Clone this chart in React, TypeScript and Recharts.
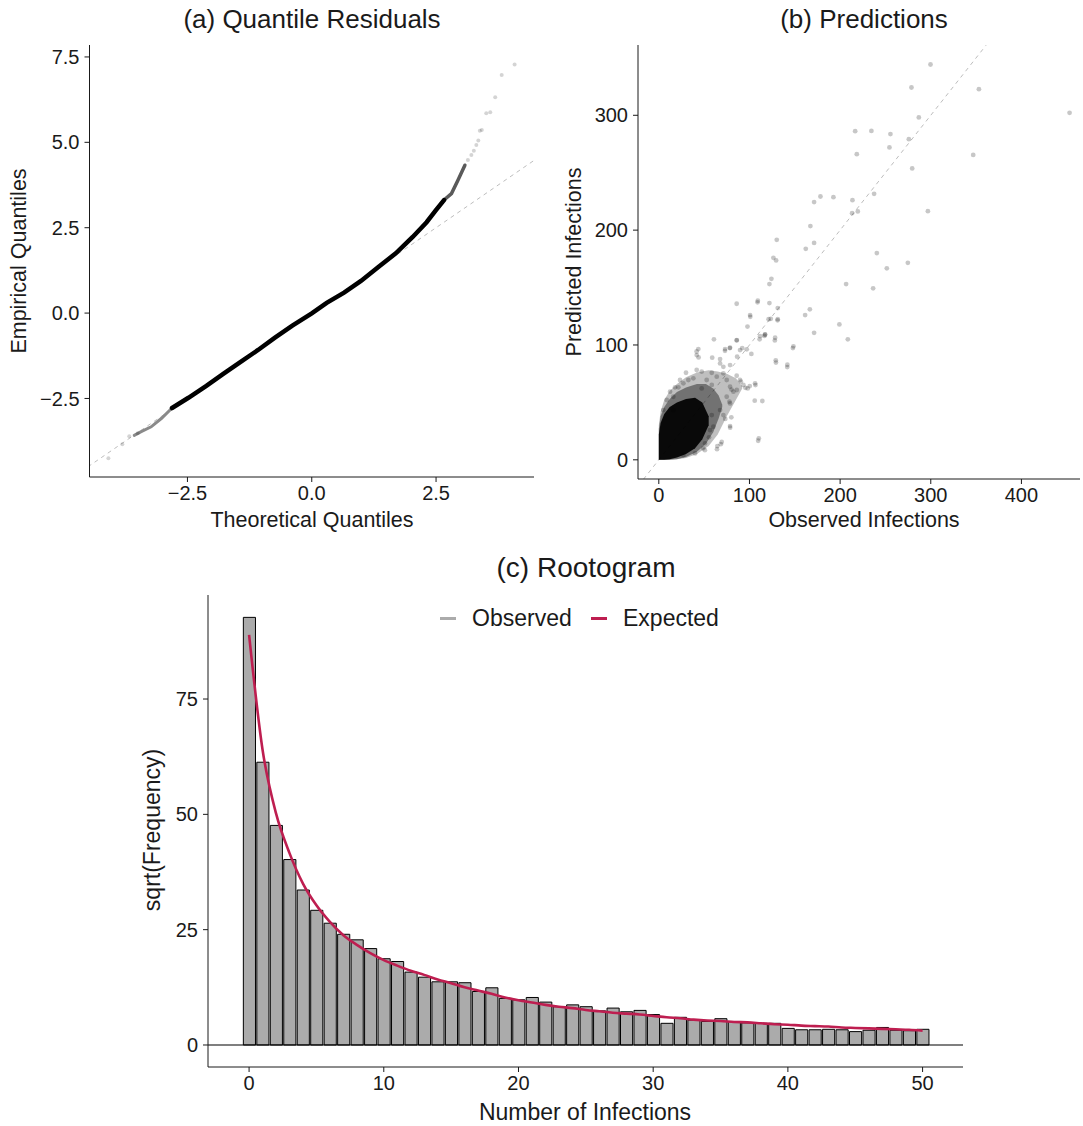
import React from "react";
import {
  ComposedChart,
  Scatter,
  Line,
  Area,
  Bar,
  XAxis,
  YAxis,
  ReferenceLine,
} from "recharts";

// (a) quantile residuals
const qqCoreTheo = [-2.81, -2.48, -2.12, -1.78, -1.43, -1.08, -0.74, -0.39, 0, 0.3, 0.65, 0.99, 1.34, 1.69, 2.03, 2.31, 2.49, 2.66];
const qqCoreEmp = [-2.78, -2.48, -2.13, -1.78, -1.43, -1.08, -0.72, -0.37, -0.01, 0.3, 0.6, 0.94, 1.35, 1.75, 2.23, 2.66, 3.0, 3.31];
const qqLowTheo = [-3.57, -3.44, -3.23, -3.02, -2.81];
const qqLowEmp = [-3.58, -3.48, -3.33, -3.08, -2.78];
const qqHighTheo = [2.66, 2.81, 2.94, 3.08];
const qqHighEmp = [3.31, 3.5, 3.89, 4.33];
const qqSparseTheo = [-4.09, -3.81, -3.67, -3.5, 3.14, 3.21, 3.26, 3.31, 3.35, 3.38, 3.42, 3.51, 3.59, 3.69, 3.82, 4.08];
const qqSparseEmp = [-4.25, -3.84, -3.61, -3.52, 4.48, 4.63, 4.75, 4.92, 5.05, 5.34, 5.36, 5.85, 5.88, 6.32, 6.97, 7.28];
const qqRef = [-4.5, 4.5];

// (b) predictions
const obsInf = [
  299.7, 278.7, 353.1, 453.1, 286.8, 216.6, 234.5, 255.5, 275.8, 254.4, 218.4, 346.8, 279.5, 237.5,
  171.3, 178.3, 192.6, 213.6, 213.2, 219.5, 296.8, 167.2, 130.1, 171.3, 162.1, 240.5, 126.4, 129.4,
  274.7, 251.5, 124.2, 122.0, 206.6, 236.4, 109.2, 122.0, 100.7, 131.2, 123.5, 131.2, 161.4, 166.6,
  199.2, 171.3, 208.5, 117.2, 111.7, 128.3, 85.9, 108.9, 100.9, 97.8, 121.1, 131.0, 116.5, 111.2,
  128.0, 147.9, 129.2, 141.7, 85.9, 102.1, 92.0, 78.3, 73.0, 60.8, 41.7, 43.9, 58.9, 67.6, 86.4,
  106.6, 100.3, 105.8, 114.2, 78.7, 109.6, 68.4, 64.2, 50.8, 85.9, 90.5, 95.5, 80.2, 77.9, 73.3,
  148.5, 129.0, 141.8, 110.3, 80.0, 78.6, 69.4, 64.6, 49.1, 55.4, 43.6, 41.8, 30.0, 12.4, 16.0,
  106.2, 98.1, 86.0, 117.2, 97.0, 89.6, 73.1, 78.6, 17.9, 21.6, 32.6, 38.1, 47.3, 52.8, 58.4, 63.9,
  71.2, 74.9, 78.6, 82.3, 89.6, 74.9, 78.6, 67.6, 71.2, 60.2, 56.5, 51.0, 40.0, 27.1, 16.0, 8.7,
  5.0, 23.4, 27.1, 41.8, 47.3, 58.4, 67.6, 71.2, 78.6, 58.4, 86.0, 93.3,
];
const predInf = [
  344.2, 324.2, 322.7, 302.1, 298.1, 286.2, 286.4, 283.6, 279.2, 272.0, 266.1, 265.5, 253.7, 231.6,
  224.4, 229.3, 228.7, 226.1, 214.8, 216.3, 216.5, 203.5, 191.6, 188.9, 183.7, 180.0, 175.9, 173.6,
  171.5, 166.7, 157.6, 153.0, 153.0, 149.3, 138.5, 136.5, 126.0, 132.1, 122.8, 122.5, 126.0, 131.0,
  117.9, 110.6, 104.9, 108.9, 107.7, 106.3, 135.9, 137.1, 124.5, 116.0, 122.4, 121.5, 107.9, 104.9,
  104.0, 97.3, 84.7, 80.8, 104.0, 92.2, 97.3, 97.3, 94.9, 104.9, 94.3, 89.2, 88.9, 87.7, 89.8,
  65.1, 64.2, 51.5, 51.2, 28.0, 16.6, 13.6, 9.3, 8.4, 73.2, 68.1, 62.7, 61.2, 50.6, 35.6,
  98.8, 86.6, 82.8, 18.7, 37.0, 29.4, 15.5, 12.0, 10.0, 19.6, 96.4, 91.2, 75.8, 59.3, 54.9,
  66.6, 62.2, 104.3, 109.2, 96.2, 95.6, 96.4, 97.6, 63.1, 63.1, 69.5, 71.0, 62.2, 69.5, 65.2, 72.4,
  75.3, 69.5, 63.7, 59.3, 69.5, 54.9, 49.1, 43.3, 39.0, 28.8, 25.9, 14.3, 5.6, 4.1, 43.3, 52.1,
  43.3, 69.5, 66.6, 78.2, 76.8, 75.8, 83.9, 81.0, 82.5, 39.0, 60.8, 65.2,
];
// dense part of the cloud near the origin: observed value, low / high predicted edge
const cloudOuterX = [0, 2, 6, 12, 20, 30, 42, 55, 65, 75, 85, 92];
const cloudOuterLow = [0, 0, 0, 0, 0.5, 1.5, 5, 12, 22, 38, 52, 62];
const cloudOuterHigh = [30, 42, 52, 60, 66, 72, 76, 78, 77, 75, 71, 64];
const cloudMidX = [0, 2, 6, 12, 20, 30, 42, 52, 60, 66, 70];
const cloudMidLow = [0, 0, 0, 0, 0.5, 2.5, 7, 14, 24, 36, 46];
const cloudMidHigh = [27, 38, 46, 53, 59, 63, 66, 66, 62, 56, 48];
const cloudCoreX = [0, 2, 6, 12, 20, 30, 40, 48, 55];
const cloudCoreLow = [0, 0, 0, 0.5, 2, 5, 10, 18, 30];
const cloudCoreHigh = [22, 32, 40, 46, 50, 53, 54, 50, 38];
const predRef = [-17, 361];

// (c) rootogram
const infections = Array.from({ length: 51 }, (_, i) => i);
const observedSqrt = [
  92.7, 61.3, 47.6, 40.2, 33.6, 29.2, 26.4, 24.0, 22.8, 20.9, 18.7, 18.1, 15.8, 14.7, 13.7, 13.7, 13.5,
  11.6, 12.4, 10.1, 9.8, 10.3, 9.3, 8.3, 8.7, 8.3, 7.4, 8.0, 7.2, 7.5, 6.6, 4.7, 6.0, 5.4, 5.1, 5.7,
  5.1, 4.8, 4.7, 4.7, 3.6, 3.3, 3.3, 3.4, 3.3, 2.9, 3.2, 3.8, 3.2, 3.1, 3.4,
];
const expectedSqrt = [
  88.9, 64.0, 50.2, 41.6, 35.0, 30.3, 26.7, 23.8, 21.7, 19.9, 18.4, 17.2, 16.1, 15.2, 14.2, 13.4, 12.5,
  11.8, 11.1, 10.3, 9.7, 9.2, 8.7, 8.3, 8.0, 7.6, 7.3, 7.0, 6.8, 6.6, 6.3, 6.0, 5.8, 5.5, 5.3, 5.2,
  5.0, 4.9, 4.7, 4.5, 4.4, 4.2, 4.1, 4.0, 3.8, 3.7, 3.6, 3.5, 3.4, 3.3, 3.1,
];

const FONT = "'Liberation Sans', Arial, Helvetica, sans-serif";
const INK = "#1a1a1a";
const CRIMSON = "#BE1E50";
const GREY = "#ABABAB";
const DASH = "#BDBDBD";

const zip = (xs: number[], ys: number[]) => xs.map((x, i) => ({ x, y: ys[i] }));
const band = (xs: number[], lo: number[], hi: number[]) =>
  xs.map((x, i) => ({ x, band: [lo[i], hi[i]] }));
const fmt1 = (v: number) => v.toFixed(1).replace("-", "\u2212");

const tickStyle = { fontSize: 20, fill: INK, fontFamily: FONT };
const axisLine = { stroke: INK, strokeWidth: 1 };
const tickLine = { stroke: INK, strokeWidth: 1 };

function Label({ x, y, text, size, rotate }: { x: number; y: number; text: string; size: number; rotate?: boolean }) {
  return (
    <div
      style={{
        position: "absolute",
        left: x,
        top: y,
        transform: `translate(-50%, -50%)${rotate ? " rotate(-90deg)" : ""}`,
        fontFamily: FONT,
        fontSize: size,
        lineHeight: 1,
        color: INK,
        whiteSpace: "nowrap",
      }}
    >
      {text}
    </div>
  );
}

function QQPanel() {
  return (
    <ComposedChart width={540} height={540} margin={{ top: 45, right: 6, left: 29.5, bottom: 23 }}>
      <XAxis
        type="number"
        dataKey="x"
        domain={[-4.47, 4.47]}
        allowDataOverflow
        ticks={[-2.5, 0, 2.5]}
        tickFormatter={fmt1}
        tick={tickStyle}
        axisLine={axisLine}
        tickLine={tickLine}
        tickSize={5}
        tickMargin={4}
        height={40}
      />
      <YAxis
        type="number"
        dataKey="y"
        domain={[-4.8, 7.85]}
        allowDataOverflow
        ticks={[-2.5, 0, 2.5, 5, 7.5]}
        tickFormatter={fmt1}
        tick={tickStyle}
        axisLine={axisLine}
        tickLine={tickLine}
        tickSize={5}
        tickMargin={5}
        width={60}
      />
      <Line data={zip(qqRef, qqRef)} dataKey="y" stroke={DASH} strokeDasharray="4 4" strokeWidth={1} dot={false} isAnimationActive={false} />
      <Line data={zip(qqLowTheo, qqLowEmp)} dataKey="y" stroke="#8a8a8a" strokeWidth={3} dot={false} isAnimationActive={false} strokeLinecap="round" />
      <Line data={zip(qqHighTheo, qqHighEmp)} dataKey="y" stroke="#5a5a5a" strokeWidth={3.5} dot={false} isAnimationActive={false} strokeLinecap="round" />
      <Line data={zip(qqCoreTheo, qqCoreEmp)} dataKey="y" stroke="#000" strokeWidth={4.5} dot={false} isAnimationActive={false} strokeLinecap="round" />
      <Scatter
        data={zip(qqSparseTheo, qqSparseEmp)}
        shape={(p: any) => <circle cx={p.cx} cy={p.cy} r={2} fill="#000" fillOpacity={0.17} />}
        isAnimationActive={false}
      />
    </ComposedChart>
  );
}

function PredPanel() {
  return (
    <ComposedChart width={543} height={540} margin={{ top: 45, right: 3, left: 38, bottom: 21 }}>
      <XAxis
        type="number"
        dataKey="x"
        domain={[-22.95, 464.6]}
        allowDataOverflow
        ticks={[0, 100, 200, 300, 400]}
        tick={tickStyle}
        axisLine={axisLine}
        tickLine={tickLine}
        tickSize={5}
        tickMargin={4}
        height={40}
      />
      <YAxis
        type="number"
        dataKey="y"
        domain={[-16.7, 361.2]}
        allowDataOverflow
        ticks={[0, 100, 200, 300]}
        tick={tickStyle}
        axisLine={axisLine}
        tickLine={tickLine}
        tickSize={5}
        tickMargin={5}
        width={60}
      />
      <Area
        data={zip(predRef, predRef)}
        dataKey="y"
        type="linear"
        stroke={DASH}
        strokeDasharray="4 4"
        strokeWidth={1}
        fill="none"
        isAnimationActive={false}
      />
      <Area
        data={band(cloudOuterX, cloudOuterLow, cloudOuterHigh)}
        dataKey="band"
        type="linear"
        stroke="none"
        fill="#000"
        fillOpacity={0.25}
        isAnimationActive={false}
      />
      <Area
        data={band(cloudMidX, cloudMidLow, cloudMidHigh)}
        dataKey="band"
        type="linear"
        stroke="none"
        fill="#000"
        fillOpacity={0.4}
        isAnimationActive={false}
      />
      <Area
        data={band(cloudCoreX, cloudCoreLow, cloudCoreHigh)}
        dataKey="band"
        type="linear"
        stroke="none"
        fill="#000"
        fillOpacity={0.92}
        isAnimationActive={false}
      />
      <Scatter
        data={zip(obsInf, predInf)}
        shape={(p: any) => <circle cx={p.cx} cy={p.cy} r={2.4} fill="#000" fillOpacity={0.22} />}
        isAnimationActive={false}
      />
    </ComposedChart>
  );
}

const rootData = infections.map((k, i) => ({ k, observed: observedSqrt[i], expected: expectedSqrt[i] }));
const C_X: [number, number] = [-3.05, 53.0];
const C_PLOT_W = 1083 - 148 - 60 - 120;

function RootPanel() {
  const barSize = C_PLOT_W / (C_X[1] - C_X[0]);
  return (
    <ComposedChart width={1083} height={586} data={rootData} margin={{ top: 55, right: 120, left: 148, bottom: 19 }}>
      <XAxis
        type="number"
        dataKey="k"
        domain={C_X}
        allowDataOverflow
        ticks={[0, 10, 20, 30, 40, 50]}
        tick={tickStyle}
        axisLine={axisLine}
        tickLine={tickLine}
        tickSize={5}
        tickMargin={4}
        height={40}
      />
      <YAxis
        type="number"
        domain={[-4.77, 97.55]}
        allowDataOverflow
        ticks={[0, 25, 50, 75]}
        tick={tickStyle}
        axisLine={axisLine}
        tickLine={tickLine}
        tickSize={5}
        tickMargin={5}
        width={60}
      />
      <Bar dataKey="observed" fill={GREY} stroke="#000" strokeWidth={1} barSize={barSize} isAnimationActive={false} />
      <ReferenceLine y={0} stroke="#000" strokeWidth={1.2} />
      <Line dataKey="expected" type="monotone" stroke={CRIMSON} strokeWidth={2.6} dot={false} isAnimationActive={false} />
    </ComposedChart>
  );
}

function LegendKey({ x, color, text }: { x: number; color: string; text: string }) {
  return (
    <>
      <div style={{ position: "absolute", left: x, top: 616.5, width: 16, height: 3, background: color }} />
      <div
        style={{
          position: "absolute",
          left: x + 32,
          top: 618,
          transform: "translateY(-50%)",
          fontFamily: FONT,
          fontSize: 23,
          lineHeight: 1,
          color: INK,
          whiteSpace: "nowrap",
        }}
      >
        {text}
      </div>
    </>
  );
}

export default function App() {
  return (
    <div style={{ position: "absolute", left: 0, top: 0, width: 1083, height: 1126, background: "#fff", overflow: "hidden" }}>
      <div style={{ position: "absolute", left: 0, top: 0 }}>
        <QQPanel />
      </div>
      <div style={{ position: "absolute", left: 540, top: 0 }}>
        <PredPanel />
      </div>
      <div style={{ position: "absolute", left: 0, top: 540 }}>
        <RootPanel />
      </div>

      <Label x={312} y={19} text="(a) Quantile Residuals" size={26} />
      <Label x={864} y={19} text="(b) Predictions" size={26} />
      <Label x={586} y={568} text="(c) Rootogram" size={28} />

      <Label x={20} y={261} text="Empirical Quantiles" size={21.5} rotate />
      <Label x={312} y={521} text="Theoretical Quantiles" size={21.5} />
      <Label x={575} y={262} text="Predicted Infections" size={21.5} rotate />
      <Label x={864} y={521} text="Observed Infections" size={21.5} />
      <Label x={152} y={830} text="sqrt(Frequency)" size={23} rotate />
      <Label x={585} y={1112} text="Number of Infections" size={23} />

      <LegendKey x={440} color={GREY} text="Observed" />
      <LegendKey x={591} color={CRIMSON} text="Expected" />
    </div>
  );
}
